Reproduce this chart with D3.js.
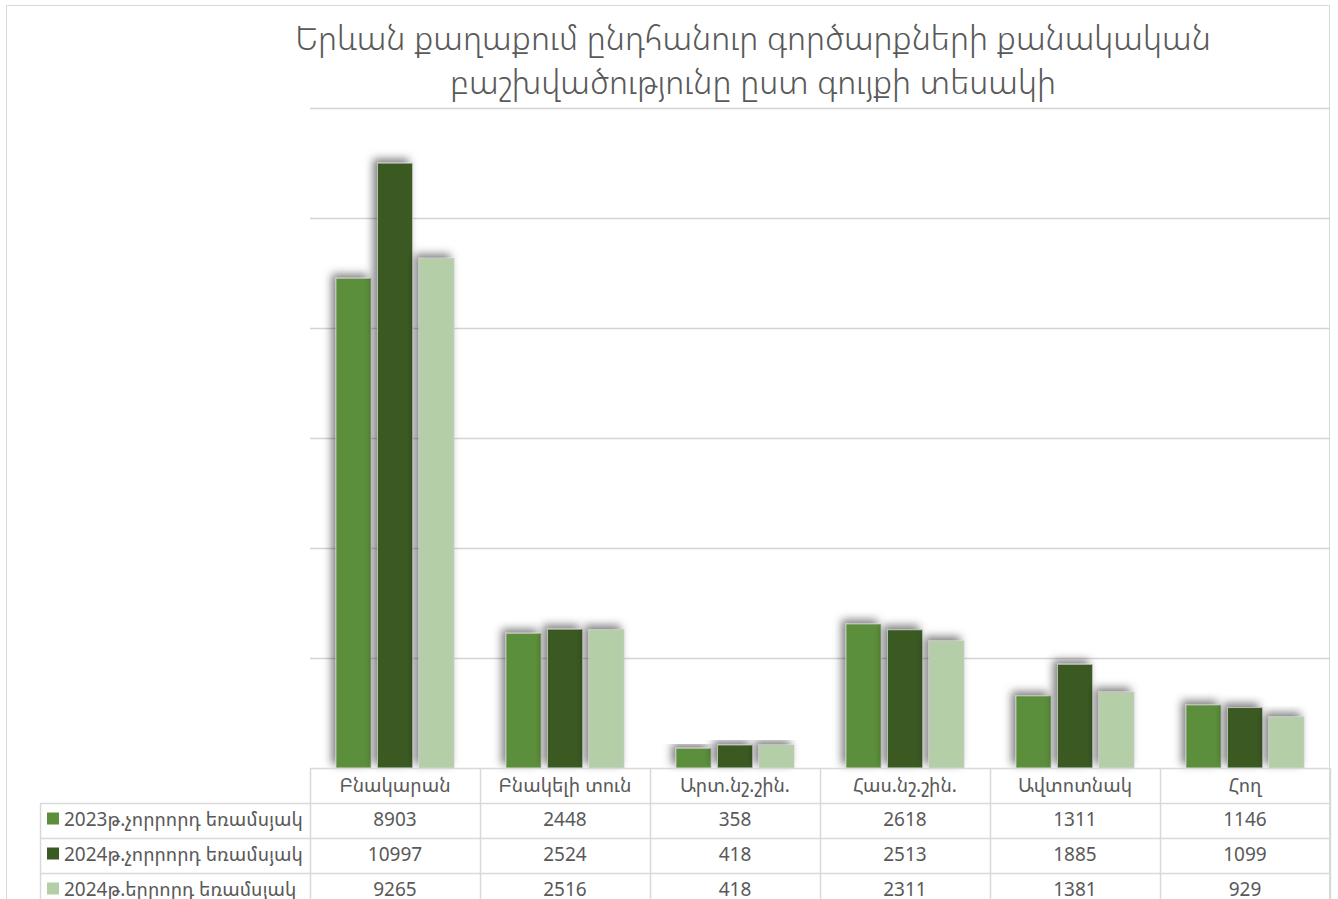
<!DOCTYPE html>
<html>
<head>
<meta charset="utf-8">
<script src="https://cdn.jsdelivr.net/npm/d3@7"></script>
<style>
  body { margin: 0; background: #fff; }
  text { font-family: "Noto Sans Armenian", "DejaVu Sans", sans-serif; fill: #595959; }
</style>
</head>
<body>
<div id="chart"></div>
<script>
// Data
var categories = ['Բնակարան', 'Բնակելի տուն', 'Արտ.նշ.շին.', 'Հաս.նշ.շին.', 'Ավտոտնակ', 'Հող'];
var seriesNames = ['2023թ.չորրորդ եռամսյակ', '2024թ.չորրորդ եռամսյակ', '2024թ.երրորդ եռամսյակ'];
var q4_2023 = [8903, 2448, 358, 2618, 1311, 1146];
var q4_2024 = [10997, 2524, 418, 2513, 1885, 1099];
var q3_2024 = [9265, 2516, 418, 2311, 1381, 929];
var yTicks = [0, 2000, 4000, 6000, 8000, 10000, 12000];
var colors = ['#5b8f3a', '#3a5a24', '#b4cea7'];

var series = [q4_2023, q4_2024, q3_2024];

var width = 1338,
    height = 899,
    plotLeft = 310,
    plotRight = 1330,
    plotTop = 108,
    base = 768,
    rowH = 35;

var svg = d3.select('#chart').append('svg')
    .attr('width', width)
    .attr('height', height);

var defs = svg.append('defs');
var f = defs.append('filter').attr('id', 'shadow')
    .attr('x', '-50%').attr('y', '-20%').attr('width', '200%').attr('height', '140%');
f.append('feDropShadow')
    .attr('dx', -4).attr('dy', -4)
    .attr('stdDeviation', 4)
    .attr('flood-color', '#000')
    .attr('flood-opacity', 0.5);

// chart border
svg.append('rect')
  .attr('x', 6.5).attr('y', 5.5)
  .attr('width', 1323).attr('height', 920)
  .attr('fill', 'none')
  .attr('stroke', '#d9d9d9');

// title
var title = svg.append('text')
  .attr('text-anchor', 'middle')
  .style('font-size', '33.5px')
  .style('font-weight', 300);
title.append('tspan').attr('x', 753).attr('y', 50)
  .text('Երևան քաղաքում ընդհանուր գործարքների քանակական');
title.append('tspan').attr('x', 753).attr('y', 94)
  .text('բաշխվածությունը ըստ գույքի տեսակի');

// scales
var x = d3.scaleBand().domain(categories).range([plotLeft, plotRight]);
var x1 = d3.scaleBand().domain(d3.range(series.length))
    .range([0, x.bandwidth()]).paddingInner(0.157).paddingOuter(0.627);
var y = d3.scaleLinear().domain([0, 12000]).range([base, plotTop]);

// gridlines
svg.append('g').selectAll('line')
  .data(yTicks.slice(1))
  .enter().append('line')
    .attr('x1', plotLeft).attr('x2', plotRight)
    .attr('y1', function(d) { return Math.round(y(d)) + 0.5; })
    .attr('y2', function(d) { return Math.round(y(d)) + 0.5; })
    .attr('stroke', '#d4d4d4')
    .attr('stroke-width', 1.5);

// bars
for (var s = 0; s < series.length; s++) {
  svg.append('g')
    .selectAll('rect')
    .data(series[s])
    .enter().append('rect')
      .attr('x', function(d, i) { return x(categories[i]) + x1(s); })
      .attr('y', function(d) { return y(d); })
      .attr('width', x1.bandwidth())
      .attr('height', function(d) { return base - y(d); })
      .attr('fill', colors[s])
      .attr('stroke', 'rgba(200,200,200,0.8)')
      .attr('stroke-width', 1)
      .attr('filter', 'url(#shadow)');
}

// data table
var tbl = svg.append('g');
var lineColor = '#d9d9d9';
var legLeft = 40;

// horizontal lines
tbl.append('line').attr('x1', plotLeft).attr('x2', plotRight)
  .attr('y1', base + 0.5).attr('y2', base + 0.5).attr('stroke', lineColor).attr('stroke-width', 1.5);
for (var r = 1; r <= 3; r++) {
  tbl.append('line').attr('x1', legLeft).attr('x2', plotRight)
    .attr('y1', base + r * rowH + 0.5).attr('y2', base + r * rowH + 0.5)
    .attr('stroke', lineColor).attr('stroke-width', 1.5);
}
// vertical lines
tbl.append('line').attr('x1', legLeft + 0.5).attr('x2', legLeft + 0.5)
  .attr('y1', base + rowH).attr('y2', height).attr('stroke', lineColor).attr('stroke-width', 1.5);
categories.concat(['end']).forEach(function(c, i) {
  var xx = plotLeft + i * x.bandwidth() + 0.5;
  tbl.append('line').attr('x1', xx).attr('x2', xx)
    .attr('y1', base).attr('y2', height).attr('stroke', lineColor).attr('stroke-width', 1.5);
});

// header
tbl.selectAll('.head')
  .data(categories)
  .enter().append('text')
    .attr('class', 'head')
    .attr('x', function(d) { return x(d) + x.bandwidth() / 2; })
    .attr('y', base + rowH / 2 + 6)
    .attr('text-anchor', 'middle')
    .style('font-size', '19px')
    .text(function(d) { return d; });

// rows
series.forEach(function(vals, s) {
  var cy = base + (s + 1) * rowH + rowH / 2 + 5;
  tbl.append('rect')
    .attr('x', 47).attr('y', cy - 13)
    .attr('width', 12).attr('height', 12)
    .attr('fill', colors[s]);
  tbl.append('text')
    .attr('x', 64).attr('y', cy)
    .style('font-size', '19px')
    .text(seriesNames[s]);
  tbl.selectAll('.v' + s)
    .data(vals)
    .enter().append('text')
      .attr('x', function(d, i) { return x(categories[i]) + x.bandwidth() / 2; })
      .attr('y', cy)
      .attr('text-anchor', 'middle')
      .style('font-size', '19px')
      .text(function(d) { return d; });
});
</script>
</body>
</html>
